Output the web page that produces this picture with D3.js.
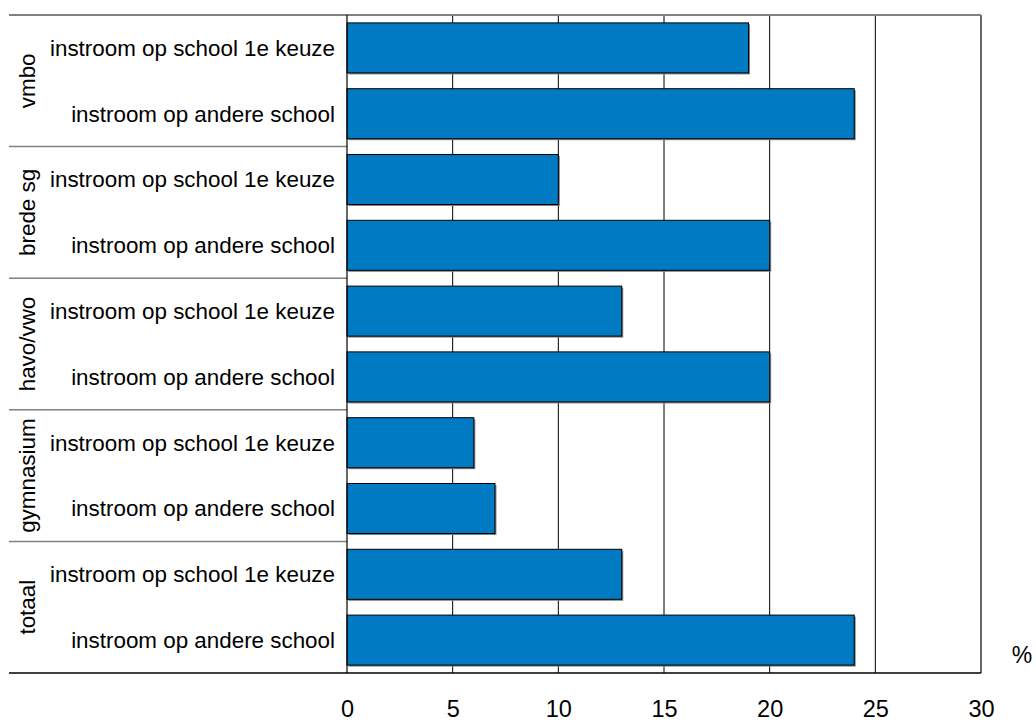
<!DOCTYPE html>
<html>
<head>
<meta charset="utf-8">
<script src="https://cdn.jsdelivr.net/npm/d3@7"></script>
<style>
  html, body { margin: 0; padding: 0; background: #fff; }
  svg { display: block; font-family: "Liberation Sans", Arial, sans-serif; }
</style>
</head>
<body>
<svg id="chart" width="1036" height="722"></svg>
<script>
// ---- data ----
const groups = ["vmbo", "brede sg", "havo/vwo", "gymnasium", "totaal"];
const subcategories = ["instroom op school 1e keuze", "instroom op andere school"];
const values1eKeuze = [19, 10, 13, 6, 13];
const valuesAndere = [24, 20, 20, 7, 24];
const xTicks = [0, 5, 10, 15, 20, 25, 30];
const unitLabel = "%";

(function () {
// ---- build rows ----
const rows = [];
groups.forEach((g, i) => {
  rows.push({ id: i * 2, group: g, label: subcategories[0], value: values1eKeuze[i] });
  rows.push({ id: i * 2 + 1, group: g, label: subcategories[1], value: valuesAndere[i] });
});

const svg = d3.select("#chart");
const mLeft = 347, mRight = 981, mTop = 15, mBottom = 673;

const x = d3.scaleLinear().domain([0, 30]).range([mLeft, mRight]);
const y = d3.scaleBand().domain(rows.map(d => d.id)).range([mTop, mBottom])
  .paddingInner(0.24).paddingOuter(0.12);
const step = y.step();

// gridlines
svg.append("g").selectAll("line")
  .data(xTicks.filter(t => t > 0 && t < 30))
  .join("line")
  .attr("x1", d => x(d)).attr("x2", d => x(d))
  .attr("y1", mTop).attr("y2", mBottom)
  .attr("stroke", "#000").attr("stroke-width", 1);

// right border
svg.append("line")
  .attr("x1", x(30)).attr("x2", x(30)).attr("y1", mTop).attr("y2", mBottom)
  .attr("stroke", "#000").attr("stroke-width", 1.2);

// top border (gray)
svg.append("line")
  .attr("x1", 9).attr("x2", x(30)).attr("y1", mTop).attr("y2", mTop)
  .attr("stroke", "#808080").attr("stroke-width", 2);

// group separators
svg.append("g").selectAll("line")
  .data(groups.slice(1))
  .join("line")
  .attr("x1", 9).attr("x2", mLeft)
  .attr("y1", (d, i) => mTop + step * 2 * (i + 1))
  .attr("y2", (d, i) => mTop + step * 2 * (i + 1))
  .attr("stroke", "#808080").attr("stroke-width", 1.5);

// bar shadows
svg.append("g").selectAll("rect")
  .data(rows)
  .join("rect")
  .attr("x", x(0) + 1.5)
  .attr("y", d => y(d.id) + 1.5)
  .attr("width", d => x(d.value) - x(0))
  .attr("height", y.bandwidth())
  .attr("fill", "#808080");

// bars
svg.append("g").selectAll("rect")
  .data(rows)
  .join("rect")
  .attr("x", x(0))
  .attr("y", d => y(d.id))
  .attr("width", d => x(d.value) - x(0))
  .attr("height", y.bandwidth())
  .attr("fill", "#007AC3")
  .attr("stroke", "#000")
  .attr("stroke-width", 1);

// left axis line
svg.append("line")
  .attr("x1", mLeft).attr("x2", mLeft).attr("y1", mTop).attr("y2", mBottom)
  .attr("stroke", "#000").attr("stroke-width", 1.2);

// bottom line
svg.append("line")
  .attr("x1", 9).attr("x2", x(30)).attr("y1", mBottom).attr("y2", mBottom)
  .attr("stroke", "#000").attr("stroke-width", 1.5);

// y axis (subcategory labels)
const yAxis = d3.axisLeft(y).tickSize(0).tickPadding(12)
  .tickFormat(id => rows[id].label);
const gy = svg.append("g").attr("transform", `translate(${mLeft},0)`).call(yAxis);
gy.select(".domain").remove();
gy.selectAll("text").attr("font-size", 22.4).attr("font-family", "Liberation Sans, Arial, sans-serif")
  .attr("fill", "#000").attr("dy", "0.35em");

// group labels (rotated)
svg.append("g").selectAll("text")
  .data(groups)
  .join("text")
  .attr("transform", (d, i) => `translate(35,${mTop + step * (2 * i + 1)}) rotate(-90)`)
  .attr("text-anchor", "middle")
  .attr("font-size", 22.4)
  .attr("fill", "#000")
  .text(d => d);

// x axis
const xAxis = d3.axisBottom(x).tickValues(xTicks).tickSize(0).tickPadding(27)
  .tickFormat(d3.format("d"));
const gx = svg.append("g").attr("transform", `translate(0,${mBottom})`).call(xAxis);
gx.select(".domain").remove();
gx.selectAll("text").attr("font-size", 23.5).attr("font-family", "Liberation Sans, Arial, sans-serif")
  .attr("fill", "#000");

// unit label
svg.append("text")
  .attr("x", 1022).attr("y", 663)
  .attr("text-anchor", "middle")
  .attr("font-size", 23)
  .attr("fill", "#000")
  .text(unitLabel);
})();
</script>
</body>
</html>
